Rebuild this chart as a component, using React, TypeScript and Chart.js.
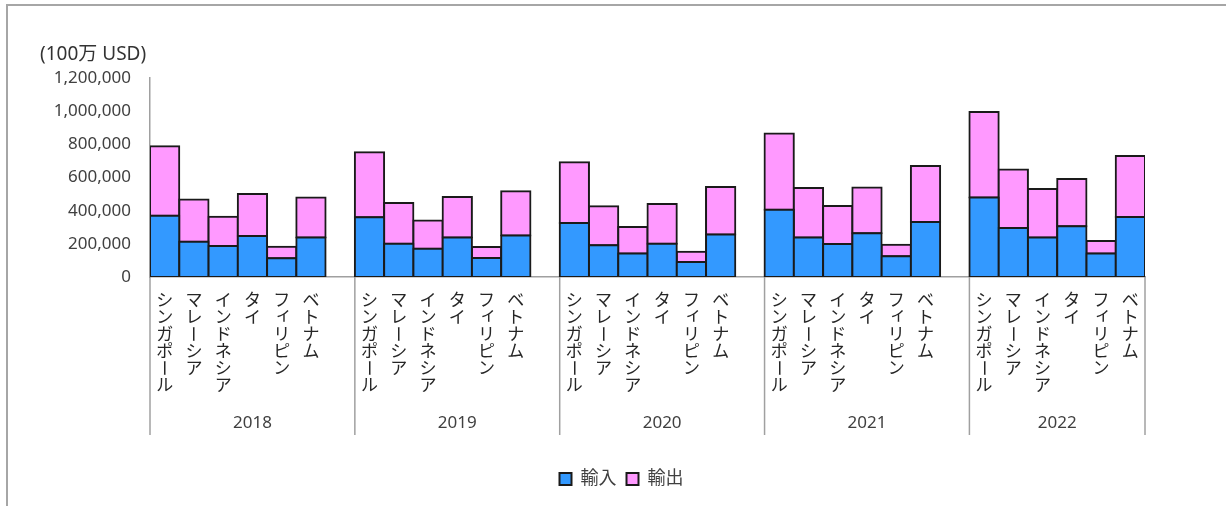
import React, { useEffect, useRef } from "react";
import { Chart, registerables } from "chart.js";

Chart.register(...registerables);

const years = ["2018", "2019", "2020", "2021", "2022"];
const countries = ["シンガポール", "マレーシア", "インドネシア", "タイ", "フィリピン", "ベトナム"];

// 輸入 (import) per year, in country order
const imports2018 = [370000, 213000, 187000, 247000, 113000, 238000];
const imports2019 = [360000, 201000, 171000, 238000, 115000, 251000];
const imports2020 = [326000, 191000, 141000, 201000, 90000, 257000];
const imports2021 = [406000, 238000, 199000, 264000, 125000, 332000];
const imports2022 = [479000, 295000, 238000, 306000, 141000, 362000];

// 輸出 (export) per year, in country order
const exports2018 = [418000, 254000, 177000, 253000, 70000, 241000];
const exports2019 = [392000, 245000, 169000, 244000, 66000, 266000];
const exports2020 = [366000, 235000, 161000, 239000, 63000, 286000];
const exports2021 = [459000, 299000, 229000, 275000, 70000, 337000];
const exports2022 = [516000, 353000, 293000, 285000, 76000, 368000];

const yTickValues = [0, 200000, 400000, 600000, 800000, 1000000, 1200000];
const unitLabel = "(100万 USD)";
const seriesNames = ["輸入", "輸出"];

const importSeries = [imports2018, imports2019, imports2020, imports2021, imports2022];
const exportSeries = [exports2018, exports2019, exports2020, exports2021, exports2022];

const labels: string[] = [];
const importData: (number | null)[] = [];
const exportData: (number | null)[] = [];
years.forEach((_, gi) => {
  countries.forEach((c, ci) => {
    labels.push(c);
    importData.push(importSeries[gi][ci]);
    exportData.push(exportSeries[gi][ci]);
  });
  if (gi < years.length - 1) {
    labels.push("");
    importData.push(null);
    exportData.push(null);
  }
});

const LATIN = "'Noto Sans', 'Noto Sans CJK JP', sans-serif";
const CJK = "'Noto Sans CJK JP', sans-serif";
const SMALL_KANA = "ァィゥェォッャュョヮ";

const decorPlugin = {
  id: "decor",
  afterLayout(chart: any) {
    const lg = chart.legend;
    if (lg) {
      lg.left += 49;
      lg.right += 49;
    }
  },
  beforeDraw(chart: any) {
    const ctx = chart.ctx;
    ctx.save();
    ctx.strokeStyle = "#a6a6a6";
    ctx.lineWidth = 2;
    ctx.strokeRect(7, 5, 1400, 700);
    ctx.restore();
  },
  afterDraw(chart: any) {
    const ctx = chart.ctx;
    const xs = chart.scales.x;
    const area = chart.chartArea;
    const n = chart.data.labels.length;
    const w = xs.getPixelForValue(1) - xs.getPixelForValue(0);
    ctx.save();

    // unit label
    ctx.font = `19px ${LATIN}`;
    ctx.fillStyle = "#333333";
    ctx.textAlign = "left";
    ctx.textBaseline = "middle";
    ctx.fillText(unitLabel, 40, 55);

    // vertical category labels
    ctx.font = `17px ${CJK}`;
    ctx.fillStyle = "#262626";
    ctx.textAlign = "center";
    ctx.textBaseline = "middle";
    for (let i = 0; i < n; i++) {
      const lab: string = chart.data.labels[i];
      if (!lab) continue;
      const cx = xs.getPixelForValue(i);
      Array.from(lab).forEach((ch, k) => {
        const cy = 300 + k * 17;
        if (ch === "ー") {
          ctx.save();
          ctx.translate(cx, cy);
          ctx.rotate(Math.PI / 2);
          ctx.fillText(ch, 0, 0);
          ctx.restore();
        } else if (SMALL_KANA.includes(ch)) {
          ctx.fillText(ch, cx + 2, cy - 3);
        } else {
          ctx.fillText(ch, cx, cy);
        }
      });
    }

    // group separators and year labels
    const bounds: number[] = [];
    years.forEach((_, gi) => bounds.push(xs.getPixelForValue(gi * 7) - w / 2));
    bounds.push(xs.getPixelForValue(n - 1) + w / 2);
    ctx.strokeStyle = "#a0a0a0";
    ctx.lineWidth = 1.5;
    bounds.forEach((bx) => {
      ctx.beginPath();
      ctx.moveTo(bx, area.bottom);
      ctx.lineTo(bx, 435);
      ctx.stroke();
    });
    ctx.font = `17px ${LATIN}`;
    ctx.fillStyle = "#404040";
    years.forEach((y, gi) => {
      ctx.fillText(y, (bounds[gi] + bounds[gi + 1]) / 2, 423);
    });
    ctx.restore();
  },
};

export default function App() {
  const ref = useRef<HTMLCanvasElement | null>(null);
  useEffect(() => {
    if (!ref.current) return;
    const chart = new Chart(ref.current, {
      type: "bar",
      data: {
        labels,
        datasets: [
          {
            label: seriesNames[0],
            data: importData,
            backgroundColor: "#3399ff",
            borderColor: "#1a1a1a",
            borderWidth: 2,
            borderSkipped: false,
            inflateAmount: 1,
            barPercentage: 1,
            categoryPercentage: 1,
          },
          {
            label: seriesNames[1],
            data: exportData,
            backgroundColor: "#ff99ff",
            borderColor: "#1a1a1a",
            borderWidth: 2,
            borderSkipped: false,
            inflateAmount: 1,
            barPercentage: 1,
            categoryPercentage: 1,
          },
        ],
      },
      options: {
        responsive: false,
        animation: false,
        devicePixelRatio: 1,
        layout: { padding: { top: 78, right: 81, left: 0, bottom: 8 } },
        plugins: {
          tooltip: { enabled: false },
          legend: {
            position: "bottom",
            labels: {
              boxWidth: 12,
              boxHeight: 12,
              padding: 10,
              color: "#404040",
              font: { size: 18, family: LATIN },
            },
          },
        },
        scales: {
          x: {
            stacked: true,
            offset: true,
            grid: { display: false, drawTicks: false },
            border: { display: true, color: "#a0a0a0", width: 1.5 },
            ticks: { display: false },
            afterFit: (s: any) => {
              s.height = 183;
            },
          },
          y: {
            stacked: true,
            min: 0,
            max: 1200000,
            grid: { display: false, drawTicks: false },
            border: { display: true, color: "#a0a0a0", width: 1.5 },
            afterBuildTicks: (s: any) => {
              s.ticks = yTickValues.map((v) => ({ value: v }));
            },
            ticks: {
              padding: 19,
              color: "#404040",
              font: { size: 17, family: LATIN },
              callback: (v: any) => Number(v).toLocaleString("en-US"),
            },
            afterFit: (s: any) => {
              s.width = 150;
            },
          },
        },
      },
      plugins: [decorPlugin],
    });
    return () => chart.destroy();
  }, []);
  return (
    <div style={{ position: "fixed", left: 0, top: 0, width: 1226, height: 506, background: "#fff" }}>
      <canvas ref={ref} width={1226} height={506} />
    </div>
  );
}
